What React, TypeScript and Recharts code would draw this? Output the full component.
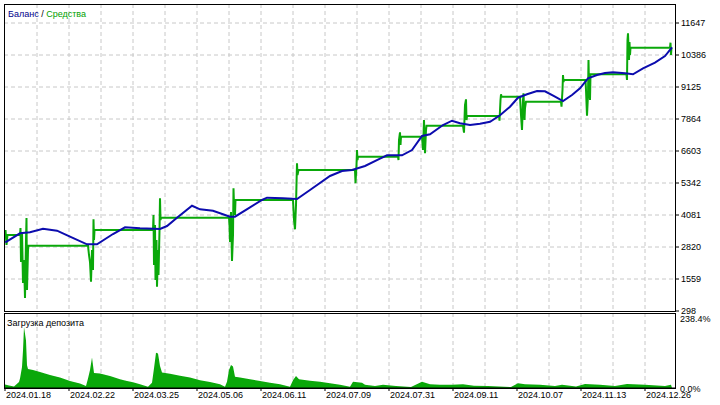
import { Area, CartesianGrid, ComposedChart, Line, XAxis, YAxis } from 'recharts'

// Strategy tester report: balance / equity and deposit load panel.
// X values are tester bar indexes; one grid cell = 32 bars.

const FONT = '"Liberation Sans", Arial, sans-serif'
const CHART_WIDTH = 720
const AXIS_WIDTH = 45
const BALANCE_COLOR = '#0c0cae'
const EQUITY_COLOR = '#0aa80a'
const GRID_COLOR = '#c8c8c8'

const dateTicks = [0, 64, 128, 192, 256, 320, 384, 448, 512, 576, 640]
const dateLabels = [
  '2024.01.18', '2024.02.22', '2024.03.25', '2024.05.06', '2024.06.11', '2024.07.09',
  '2024.07.31', '2024.09.11', '2024.10.07', '2024.11.13', '2024.12.26',
]
const gridLines = [32, 64, 96, 128, 160, 192, 224, 256, 288, 320, 352, 384, 416, 448, 480, 512, 544, 576, 608, 640]
const moneyTicks = [298, 1559, 2820, 4081, 5342, 6603, 7864, 9125, 10386, 11647]
const loadTicks = [0, 238.4]

const balanceBars = [
  0.3, 15, 25, 38, 52, 65, 82, 92, 108, 120, 135, 155, 162, 172, 187, 195, 208, 225, 230, 245,
  257, 262, 278, 292, 305, 325, 337, 347, 360, 375, 382, 397, 407, 417, 425, 438, 447, 455, 465, 475,
  485, 495, 505, 513, 522, 532, 540, 550, 558, 567, 575, 583, 592, 600, 608, 620, 628, 638, 650, 660, 667,
]
const balanceValues = [
  3005, 3360, 3399, 3541, 3462, 3226, 2926, 2926, 3332, 3596, 3557, 3529, 3647, 3975, 4447, 4306, 4250, 4014, 4014, 4384,
  4672, 4763, 4739, 4711, 5066, 5618, 5815, 5854, 6012, 6299, 6434, 6434, 6642, 7194, 7260, 7627, 7797, 7694, 7627, 7678,
  7757, 8010, 8349, 8703, 8837, 8967, 8955, 8743, 8573, 8810, 9074, 9468, 9598, 9677, 9704, 9665, 9625, 9862, 10083, 10346, 10689,
]

const equityBars = [
  0, 0.5, 1.5, 2.5, 15, 15.5, 16, 17, 18, 19, 20, 21, 21.5, 22, 23, 23.5,
  83, 84, 85, 86, 87, 88, 88.5, 89, 89.5,
  148, 148.5, 149, 150, 150.5, 151.5, 152, 153, 153.5, 154.5, 155, 155.5, 156,
  224, 224.5, 225, 226, 227, 228, 228.5, 229, 230, 230.5,
  288, 288.5, 289, 290, 291, 292, 292.5, 293.5,
  350, 350.5, 351.5, 352, 352.5, 353,
  393, 393.5, 394, 395, 395.5, 396,
  417, 418, 419, 420, 421, 421.5,
  458, 459, 460, 461, 461.5, 462,
  494, 494.5, 495.5, 496, 496.5,
  515, 516, 517, 518, 518.5, 519.5, 520, 521,
  556, 556.5, 557.5, 558, 558.5, 559,
  580.5, 581, 582, 583, 583.5, 584, 585, 585.5,
  621.5, 622, 622.5, 623, 624, 624.5, 625, 625.5,
  665, 665.5, 666, 666.5,
]
const equityValues = [
  3293, 3490, 2899, 3293, 3293, 3569, 2229, 3411, 1401, 2308, 810, 3096, 3963, 1126, 2702, 2871,
  2871, 2505, 2229, 1453, 2702, 1914, 3912, 3096, 3490,
  3490, 4081, 2111, 3687, 1520, 3096, 1256, 2702, 1717, 3490, 4739, 3884, 3975,
  3975, 3687, 3017, 4199, 2268, 3293, 5133, 4475, 4081, 4672,
  4672, 4278, 3884, 3517, 4475, 6118, 5657, 5854,
  5854, 5330, 6051, 6642, 6248, 6378,
  6378, 6248, 7036, 7340, 6839, 7166,
  7166, 6642, 7824, 6512, 7430, 7600,
  7600, 7324, 8416, 8640, 7824, 7982,
  7982, 7797, 8613, 8837, 8743,
  8743, 8022, 7430, 8613, 8877, 7824, 8297, 8546,
  8546, 8349, 9007, 9598, 9322, 9401,
  9401, 9007, 7994, 8810, 10189, 9204, 8613, 9625,
  9625, 9401, 10977, 11241, 10189, 10898, 10386, 10674,
  10674, 10871, 10386, 10689,
]

const loadBars = [
  0, 4, 9, 14, 15, 17, 18, 19, 21, 22, 23, 28, 35, 45, 55, 65, 75, 81,
  83, 85, 87, 89, 95, 105, 115, 122, 128, 135, 143,
  147, 149, 151, 153, 155, 157, 165, 175, 185, 195, 205, 215, 220,
  222, 224, 226, 228, 230, 235, 245, 255, 265, 275, 285,
  288, 291, 294, 305, 315, 325, 335, 345,
  348, 357, 360, 370, 378, 391, 406, 417, 425, 435, 447, 458, 469, 483, 506,
  513, 520, 535, 550, 557, 571, 580, 595, 610, 622, 640, 660, 666, 667,
]
const loadValues = [
  11, 8, 5, 19, 30, 67, 119, 194, 151, 72, 60, 57, 51, 41, 33, 22, 14, 6,
  30, 57, 97, 48, 46, 38, 28, 22, 18, 12, 4,
  17, 63, 112, 110, 70, 49, 45, 39, 33, 25, 19, 12, 4,
  20, 57, 73, 68, 36, 33, 28, 22, 17, 12, 4,
  25, 38, 28, 23, 20, 15, 10, 4,
  20, 17, 10, 6, 10, 6, 3, 20, 12, 10, 10, 12, 7, 6, 3,
  15, 12, 10, 6, 10, 5, 13, 10, 6, 13, 10, 6, 10, 0,
]

const balanceData = balanceBars.map((x, i) => ({ x, v: balanceValues[i] }))
const equityData = equityBars.map((x, i) => ({ x, v: equityValues[i] }))
const loadData = loadBars.map((x, i) => ({ x, v: loadValues[i] }))

function DateTick(props: any) {
  const { x, y, payload } = props
  const idx = dateTicks.indexOf(payload.value)
  if (idx < 0) return null
  return (
    <g>
      <line x1={x} x2={x} y1={y - 4} y2={y - 1} stroke="#000" />
      <text x={x + 1} y={y} dy="0.71em" fontSize={9} fontFamily={FONT} fill="#000">
        {dateLabels[idx]}
      </text>
    </g>
  )
}

function LoadTick(props: any) {
  const { x, y, payload } = props
  return (
    <text x={x} y={y + (payload.value > 0 ? 6 : 0.7)} dy="0.355em" fontSize={9} fontFamily={FONT} fill="#000">
      {payload.value.toFixed(1)}%
    </text>
  )
}

const frame = (top: number, height: number) => ({
  position: 'absolute' as const,
  left: 4,
  top,
  width: 672,
  height,
  border: '1px solid #000',
  boxSizing: 'border-box' as const,
  pointerEvents: 'none' as const,
})

export default function App() {
  return (
    <div style={{ position: 'absolute', left: 0, top: 0, width: 720, height: 405, background: '#fff', overflow: 'hidden' }}>
      <div style={{ position: 'absolute', left: 0, top: 0 }}>
        <ComposedChart width={CHART_WIDTH} height={320} margin={{ top: 4, right: 0, bottom: 9, left: 4 }}>
          <CartesianGrid
            stroke={GRID_COLOR}
            strokeDasharray="4 3"
            verticalValues={gridLines}
            horizontalValues={moneyTicks.slice(1)}
          />
          <XAxis type="number" dataKey="x" domain={[-1, 670]} ticks={gridLines} hide allowDataOverflow />
          <YAxis
            orientation="right"
            width={AXIS_WIDTH}
            domain={[298, 12396]}
            ticks={moneyTicks}
            interval={0}
            allowDataOverflow
            axisLine={false}
            tickLine={{ stroke: '#000' }}
            tickSize={4}
            tickMargin={2}
            tick={{ fontSize: 9, fontFamily: FONT, fill: '#000', textAnchor: 'start' }}
          />
          <Line
            data={equityData}
            dataKey="v"
            type="linear"
            stroke={EQUITY_COLOR}
            strokeWidth={2}
            dot={false}
            isAnimationActive={false}
          />
          <Line
            data={balanceData}
            dataKey="v"
            type="linear"
            stroke={BALANCE_COLOR}
            strokeWidth={2}
            dot={false}
            isAnimationActive={false}
          />
        </ComposedChart>
      </div>
      <div style={{ position: 'absolute', left: 0, top: 312 }}>
        <ComposedChart width={CHART_WIDTH} height={93} data={loadData} margin={{ top: 1, right: 0, bottom: 0, left: 4 }}>
          <CartesianGrid stroke={GRID_COLOR} strokeDasharray="4 3" horizontal={false} verticalValues={gridLines} />
          <XAxis
            type="number"
            dataKey="x"
            domain={[-1, 670]}
            ticks={[0, ...gridLines]}
            interval={0}
            height={17}
            allowDataOverflow
            axisLine={{ stroke: '#000' }}
            tickLine={false}
            tickSize={3}
            tickMargin={1}
            tick={<DateTick />}
          />
          <YAxis
            orientation="right"
            width={AXIS_WIDTH}
            domain={[0, 238.4]}
            ticks={loadTicks}
            interval={0}
            axisLine={false}
            tickLine={false}
            tickSize={3}
            tickMargin={2}
            tick={<LoadTick />}
          />
          <Area
            dataKey="v"
            type="linear"
            stroke="none"
            fill={EQUITY_COLOR}
            fillOpacity={1}
            isAnimationActive={false}
          />
        </ComposedChart>
      </div>
      <div style={frame(4, 308)} />
      <div style={frame(313, 76)} />
      <svg width={720} height={405} style={{ position: 'absolute', left: 0, top: 0, pointerEvents: 'none' }}>
        <text x={8} y={16.5} fontSize={9} fontFamily={FONT}>
          <tspan fill="#00008b">Баланс</tspan>
          <tspan fill="#000"> / </tspan>
          <tspan fill="#00a000">Средства</tspan>
        </text>
        <text x={7} y={326} fontSize={9} fontFamily={FONT} fill="#000">
          Загрузка депозита
        </text>
      </svg>
    </div>
  )
}
